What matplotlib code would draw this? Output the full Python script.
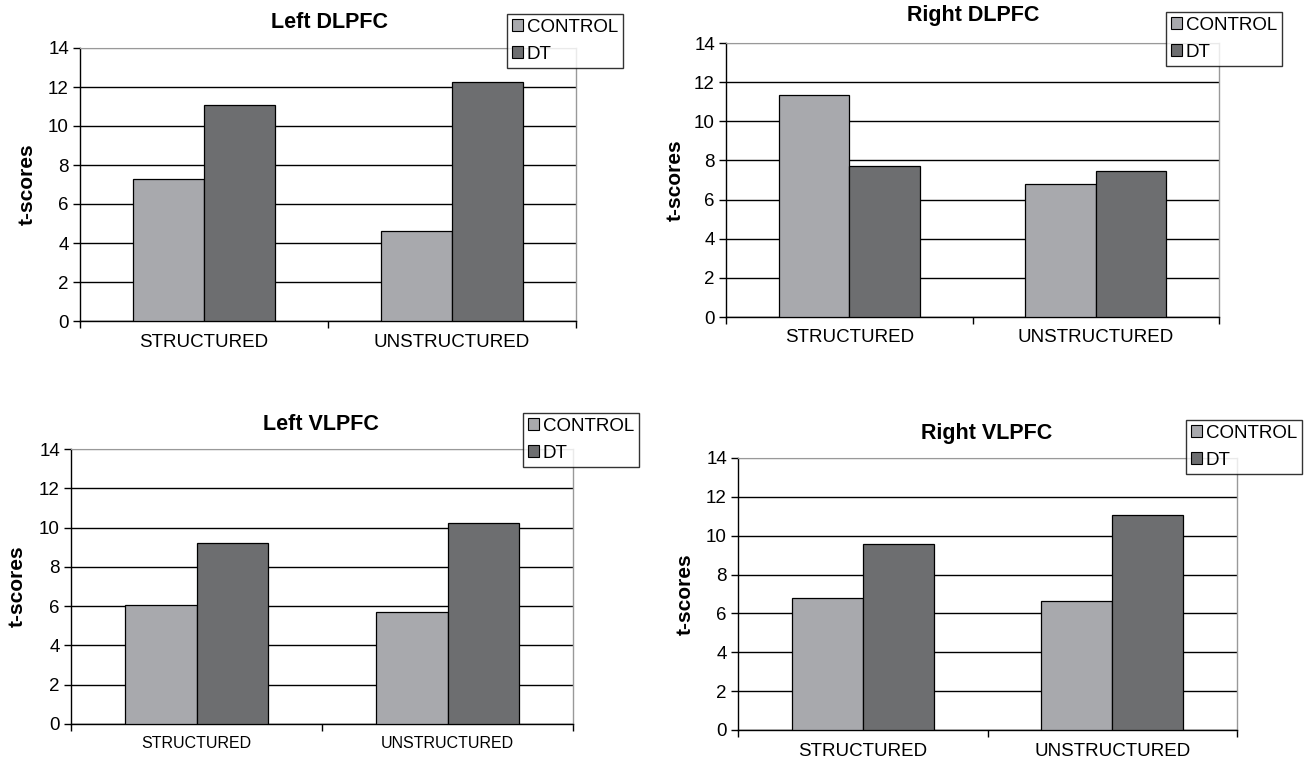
import matplotlib
matplotlib.use("Agg")
import matplotlib.pyplot as plt
from matplotlib.patches import Patch

plt.rcParams['font.family'] = ['Liberation Sans', 'DejaVu Sans']

categories = ["STRUCTURED", "UNSTRUCTURED"]
series_names = ["CONTROL", "DT"]
titles = ["Left DLPFC", "Right DLPFC", "Left VLPFC", "Right VLPFC"]
left_dlpfc_control = [7.3, 4.6]
left_dlpfc_dt = [11.1, 12.25]
right_dlpfc_control = [11.35, 6.8]
right_dlpfc_dt = [7.7, 7.45]
left_vlpfc_control = [6.05, 5.7]
left_vlpfc_dt = [9.2, 10.25]
right_vlpfc_control = [6.8, 6.65]
right_vlpfc_dt = [9.55, 11.05]
yticks = [0, 2, 4, 6, 8, 10, 12, 14]

data = [
    (left_dlpfc_control, left_dlpfc_dt),
    (right_dlpfc_control, right_dlpfc_dt),
    (left_vlpfc_control, left_vlpfc_dt),
    (right_vlpfc_control, right_vlpfc_dt),
]

W, H = 1307, 757
fig = plt.figure(figsize=(W / 100, H / 100), dpi=100)

layouts = [
    dict(ax=(80, 576, 48, 321), title=(329, 22), leg=(507, 14), ylab=27, xfs=13.5),
    dict(ax=(726, 1219, 43, 317), title=(973, 15), leg=(1166, 12), ylab=675, xfs=13.5),
    dict(ax=(71, 573, 449, 724), title=(321, 424), leg=(523, 413), ylab=17, xfs=11.5),
    dict(ax=(738, 1237, 458, 730), title=(987, 433), leg=(1186, 420), ylab=685, xfs=13.5),
]

c_control = "#a8a9ad"
c_dt = "#6d6e70"
bw = 0.285

for (ctrl, dt), title, lay in zip(data, titles, layouts):
    l, r, t, b = lay["ax"]
    ax = fig.add_axes([l / W, 1 - b / H, (r - l) / W, (b - t) / H])
    x = [0.5, 1.5]
    ax.bar([xi - bw / 2 for xi in x], ctrl, width=bw, color=c_control,
           edgecolor="black", linewidth=0.9, zorder=3)
    ax.bar([xi + bw / 2 for xi in x], dt, width=bw, color=c_dt,
           edgecolor="black", linewidth=0.9, zorder=3)
    ax.set_xlim(0, 2)
    ax.set_ylim(0, 14)
    ax.set_yticks(yticks)
    ax.set_yticklabels([str(v) for v in yticks], fontsize=13.5)
    ax.set_xticks(x)
    ax.set_xticklabels(categories, fontsize=lay["xfs"])
    ax.set_xticks([0, 1, 2], minor=True)
    ax.tick_params(axis="x", which="major", length=0, pad=9)
    ax.tick_params(axis="x", which="minor", length=5, width=1, color="black")
    ax.tick_params(axis="y", length=5, width=1, pad=3)
    ax.yaxis.grid(True, color="black", linewidth=1)
    ax.set_axisbelow(True)
    gl = ax.yaxis.get_gridlines()
    gl[-1].set_color("#999999")
    for s in ["left", "bottom"]:
        ax.spines[s].set_color("black")
        ax.spines[s].set_linewidth(1)
    ax.spines["top"].set_color("#999999")
    ax.spines["right"].set_color("#999999")
    ax.spines["right"].set_linewidth(1)

    fig.text(lay["title"][0] / W, 1 - lay["title"][1] / H, title,
             ha="center", va="center", fontsize=15.5, fontweight="bold")
    fig.text(lay["ylab"] / W, 1 - ((t + b) / 2) / H, "t-scores",
             ha="center", va="center", rotation=90, fontsize=15, fontweight="bold")
    handles = [Patch(facecolor=c_control, edgecolor="black", linewidth=0.8),
               Patch(facecolor=c_dt, edgecolor="black", linewidth=0.8)]
    leg = fig.legend(handles, series_names, loc="upper left",
                     bbox_to_anchor=(lay["leg"][0] / W, 1 - lay["leg"][1] / H),
                     fontsize=13.5, frameon=True, fancybox=False,
                     handlelength=0.6, handleheight=0.6, handletextpad=0.2,
                     borderpad=0.25, labelspacing=0.55, borderaxespad=0)
    leg.get_frame().set_edgecolor("black")
    leg.get_frame().set_linewidth(1)

fig.savefig("out.png", dpi=100)
